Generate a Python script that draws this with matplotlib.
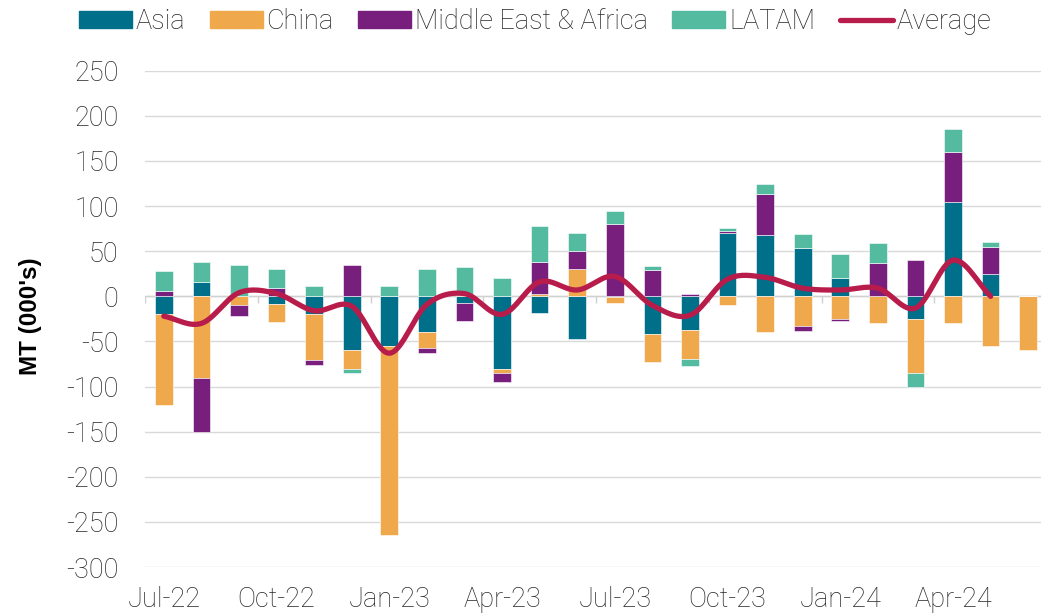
import numpy as np
import matplotlib.pyplot as plt
from matplotlib.lines import Line2D

plt.rcParams['font.family'] = ['Roboto', 'DejaVu Sans']
plt.rcParams['font.weight'] = 'light'
plt.rcParams['axes.unicode_minus'] = False

# data (000's MT)
months = ['Jul-22', 'Aug-22', 'Sep-22', 'Oct-22', 'Nov-22', 'Dec-22',
          'Jan-23', 'Feb-23', 'Mar-23', 'Apr-23', 'May-23', 'Jun-23',
          'Jul-23', 'Aug-23', 'Sep-23', 'Oct-23', 'Nov-23', 'Dec-23',
          'Jan-24', 'Feb-24', 'Mar-24', 'Apr-24', 'May-24', 'Jun-24']
asia = [-20, 16, 0, -8, -20, -60, -55, -40, -7, -80, -18, -47,
        -1, -42, -37, 70, 68, 54, 20, 0, -25, 105, 25, 0]
china = [-100, -90, -10, -20, -51, -20, -210, -17, 2, -5, 3, 30,
         -6, -31, -33, -10, -40, -33, -25, -30, -60, -30, -55, -60]
mea = [6, -60, -12, 9, -5, 35, 0, -6, -20, -10, 35, 20,
       80, 29, 3, 2, 45, -5, -2, 37, 40, 55, 30, 0]
latam = [22, 22, 35, 21, 11, -5, 11, 30, 30, 20, 40, 20,
         15, 5, -7, 4, 11, 15, 27, 22, -15, 25, 5, 0]
# average line (no value for Jun-24)
average = [-22, -30, 4, 3, -16, -11, -63, -9, 3, -20, 16, 7,
           22, -10, -21, 19, 21, 9, 7, 9, -13, 40, 0]

series = [("Asia", asia, "#006F8A"),
          ("China", china, "#F0A84C"),
          ("Middle East & Africa", mea, "#781F7E"),
          ("LATAM", latam, "#55BBA0")]
avg_color = "#B81C4B"


def smooth(xs, ys, n=30):
    # catmull-rom style smoothing like excel's "smoothed line"
    xs = np.asarray(xs, float)
    ys = np.asarray(ys, float)
    px = np.concatenate([[2 * xs[0] - xs[1]], xs, [2 * xs[-1] - xs[-2]]])
    py = np.concatenate([[2 * ys[0] - ys[1]], ys, [2 * ys[-1] - ys[-2]]])
    outx, outy = [], []
    t = np.linspace(0, 1, n, endpoint=False)
    for i in range(1, len(px) - 2):
        for p, out in ((px, outx), (py, outy)):
            p0, p1, p2, p3 = p[i - 1], p[i], p[i + 1], p[i + 2]
            out.extend(0.5 * (2 * p1 + (-p0 + p2) * t
                              + (2 * p0 - 5 * p1 + 4 * p2 - p3) * t ** 2
                              + (-p0 + 3 * p1 - 3 * p2 + p3) * t ** 3))
    outx.append(xs[-1])
    outy.append(ys[-1])
    return np.array(outx), np.array(outy)


fig = plt.figure(figsize=(10.41, 6.16), dpi=100)
ax = fig.add_axes([0.1393, 0.0795, 0.8665, 0.8057])

x = np.arange(len(months))
pos_base = np.zeros(len(months))
neg_base = np.zeros(len(months))
handles = []
for name, vals, col in series:
    v = np.array(vals, float)
    bottom = np.where(v >= 0, pos_base, neg_base)
    ax.bar(x, v, 0.47, bottom=bottom, color=col, edgecolor='white',
           linewidth=0.4, zorder=3)
    pos_base += np.clip(v, 0, None)
    neg_base += np.clip(v, None, 0)
    handles.append(plt.Rectangle((0, 0), 1, 1, color=col, label=name))

sx, sy = smooth(x[:len(average)], average)
ax.plot(sx, sy, color=avg_color, lw=3.8, solid_capstyle='round', zorder=4)
handles.append(Line2D([], [], color=avg_color, lw=3.8,
                      solid_capstyle='round', label='Average'))

ax.set_xlim(-0.5, len(months) - 0.5)
ax.set_ylim(-300, 250)
ax.set_yticks(range(-300, 251, 50))
ax.set_xticks(x[::3])
ax.set_xticklabels(months[::3])
ax.tick_params(axis='both', length=0, labelsize=19.5, colors='#262626')
ax.tick_params(axis='y', pad=19)
ax.tick_params(axis='x', pad=14)
ax.yaxis.grid(True, color='#D9D9D9', lw=1.0, zorder=0)
for s in ax.spines.values():
    s.set_visible(False)

# zero line with quarter tick marks
ax.axhline(0, color='#D0D0D0', lw=1.0, zorder=2)
ax.vlines(np.arange(-0.5, len(months), 3), -7, 0, color='#D0D0D0', lw=1.0, zorder=2)

ax.set_ylabel("MT (000's)", fontsize=17.5, fontweight='bold',
              family='Liberation Sans')
ax.yaxis.set_label_coords(-0.114, 0.505)

fig.legend(handles=handles, loc='center', bbox_to_anchor=(0.514, 0.965),
           ncol=5, frameon=False, fontsize=19.5, handlelength=1.95,
           handleheight=0.6, handletextpad=0.15, columnspacing=0.9,
           labelcolor='#262626')

fig.savefig('out.png', dpi=100)
